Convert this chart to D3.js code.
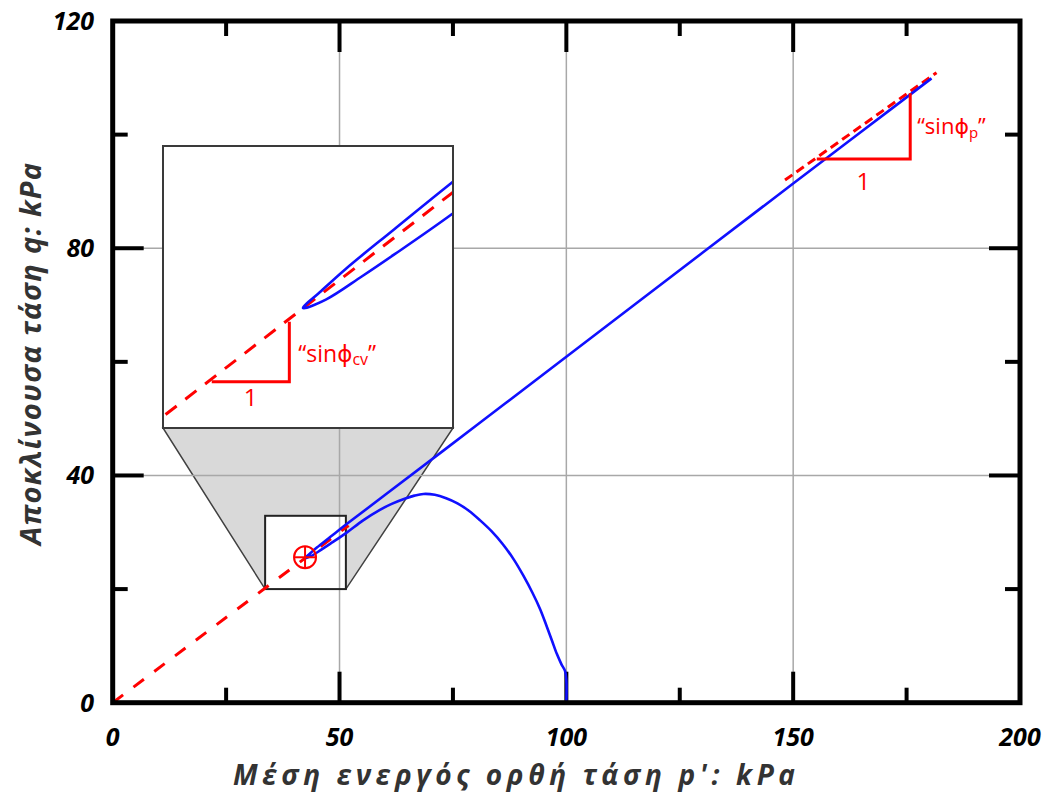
<!DOCTYPE html>
<html><head><meta charset="utf-8">
<script src="https://cdn.jsdelivr.net/npm/d3@7"></script>
<style>
html,body{margin:0;padding:0;background:#fff;}
svg{display:block;}
</style></head>
<body>
<svg id="chart" width="1049" height="794"></svg>
<script>
// ---------- data ----------
const xTicksMajor = [0, 50, 100, 150, 200];
const xTicksMinor = [25, 75, 125, 175];
const yTicksMajor = [0, 40, 80, 120];
const yTicksMinor = [20, 60, 100];
const xGrid = [50, 100, 150];
const yGrid = [40, 80];
const xTitle = "Μέση ενεργός ορθή τάση p': kPa";
const yTitle = "Αποκλίνουσα τάση q: kPa";

// stress path (p', q)
const pathP = [100, 100, 99.7, 98.9, 97.9, 96.8, 95.6, 94.2, 92.5, 90.5, 88.5, 86, 83.5, 81, 78.5, 76, 73.5, 71, 68.5, 66.5, 64.5, 61.5, 58.9, 55.2, 51.5, 48, 46, 43.8, 42.4, 43.5, 45, 48, 51.5, 60, 80, 100, 130, 150, 165, 180.5];
const pathQ = [0, 4, 5.6, 6.8, 8.6, 11.0, 13.6, 16.5, 19.4, 22.4, 25.1, 27.9, 30.2, 32.1, 33.8, 35.1, 36.0, 36.6, 36.75, 36.45, 35.95, 35.0, 33.95, 32.1, 29.9, 28.0, 26.95, 25.85, 25.45, 26.25, 27.3, 29.2, 31.4, 36.55, 48.7, 60.9, 79.2, 91.4, 100.5, 109.9];

// critical state line (sinφcv) and peak line (sinφp)
const cslP = [0, 52];
const cslQ = [0, 31.2];
const peakP = [148.2, 181.6];
const peakQ = [92.0, 110.9];

// slope triangles
const triPeakP = [155.2, 175.8, 175.8];
const triPeakQ = [95.7, 95.7, 107.3];
const triCvP = [36.8, 41.56, 41.56];
const triCvQ = [21.94, 21.94, 24.8];

// phase transformation point
const ptP = 42.4, ptQ = 25.6;

// zoom window (main plot) and inset domains
const boxP = [33.6, 51.4];
const boxQ = [20.0, 32.9];
const insetP = [33.81, 51.6];
const insetQ = [19.74, 33.16];

// ---------- chart ----------
const svg = d3.select("#chart");
const x = d3.scaleLinear().domain([0, 200]).range([112.7, 1020]);
const y = d3.scaleLinear().domain([0, 120]).range([702.7, 21]);
const xi = d3.scaleLinear().domain(insetP).range([163, 453]);
const yi = d3.scaleLinear().domain(insetQ).range([428, 146]);

const RED = "#ff0000", BLUE = "#1010ff";
const FONT = "'Open Sans', 'DejaVu Sans', sans-serif";

svg.append("rect").attr("width", 1049).attr("height", 794).attr("fill", "#fff");

// trapezoid connecting zoom box and inset
const trap = [[xi.range()[0], yi.range()[0]], [xi.range()[1], yi.range()[0]],
              [x(boxP[1]), y(boxQ[0])], [x(boxP[0]), y(boxQ[0])]];
svg.append("polygon").attr("points", trap.map(d => d.join(",")).join(" "))
  .attr("fill", "#d9d9d9").attr("stroke", "#404040").attr("stroke-width", 1.5);
svg.append("rect").attr("x", x(boxP[0])).attr("y", y(boxQ[1]))
  .attr("width", x(boxP[1]) - x(boxP[0])).attr("height", y(boxQ[0]) - y(boxQ[1]))
  .attr("fill", "#fff");

// grid
const g = svg.append("g");
g.selectAll(".gx").data(xGrid).join("line")
  .attr("x1", d => x(d)).attr("x2", d => x(d)).attr("y1", y(0)).attr("y2", y(120))
  .attr("stroke", "#a8a8a8").attr("stroke-width", 1.5);
g.selectAll(".gy").data(yGrid).join("line")
  .attr("y1", d => y(d)).attr("y2", d => y(d)).attr("x1", x(0)).attr("x2", x(200))
  .attr("stroke", "#a8a8a8").attr("stroke-width", 1.5);

// zoom box outline
svg.append("rect").attr("x", x(boxP[0])).attr("y", y(boxQ[1]))
  .attr("width", x(boxP[1]) - x(boxP[0])).attr("height", y(boxQ[0]) - y(boxQ[1]))
  .attr("fill", "none").attr("stroke", "#222").attr("stroke-width", 2);

// ticks
const ticks = svg.append("g").attr("stroke", "#000").attr("stroke-width", 4);
function xTick(vals, len) {
  vals.forEach(v => {
    ticks.append("line").attr("x1", x(v)).attr("x2", x(v)).attr("y1", y(0)).attr("y2", y(0) - len);
    ticks.append("line").attr("x1", x(v)).attr("x2", x(v)).attr("y1", y(120)).attr("y2", y(120) + len);
  });
}
function yTick(vals, len) {
  vals.forEach(v => {
    ticks.append("line").attr("y1", y(v)).attr("y2", y(v)).attr("x1", x(0)).attr("x2", x(0) + len);
    ticks.append("line").attr("y1", y(v)).attr("y2", y(v)).attr("x1", x(200)).attr("x2", x(200) - len);
  });
}
xTick(xTicksMinor, 15); yTick(yTicksMinor, 15);
xTick(xGrid, 31); yTick(yGrid, 31);

// lines
const line = (sx, sy) => d3.line().x(d => sx(d[0])).y(d => sy(d[1]));
const cslData = cslP.map((p, i) => [p, cslQ[i]]);
const peakData = peakP.map((p, i) => [p, peakQ[i]]);
const pathData = pathP.map((p, i) => [p, pathQ[i]]);

svg.append("path").attr("d", line(x, y)(cslData)).attr("fill", "none")
  .attr("stroke", RED).attr("stroke-width", 3).attr("stroke-dasharray", "13,13");
svg.append("path").attr("d", line(x, y)(peakData)).attr("fill", "none")
  .attr("stroke", RED).attr("stroke-width", 3).attr("stroke-dasharray", "9,5");

const curve = d3.line().x(d => x(d[0])).y(d => y(d[1])).curve(d3.curveCatmullRom.alpha(0.5));
svg.append("path").attr("d", curve(pathData)).attr("fill", "none")
  .attr("stroke", BLUE).attr("stroke-width", 2.6).attr("stroke-linejoin", "round");

// peak triangle
svg.append("path").attr("d", line(x, y)(triPeakP.map((p, i) => [p, triPeakQ[i]])))
  .attr("fill", "none").attr("stroke", RED).attr("stroke-width", 3);
const tp = svg.append("text").attr("x", x(175.8) + 7).attr("y", 134)
  .attr("fill", RED).attr("font-family", FONT).attr("font-size", 22);
tp.append("tspan").text("“sinϕ");
tp.append("tspan").attr("font-size", 15).attr("dy", 4).text("p");
tp.append("tspan").attr("dy", -4).text("”");
svg.append("text").attr("x", x((triPeakP[0] + triPeakP[1]) / 2)).attr("y", 190)
  .attr("text-anchor", "middle").attr("fill", RED).attr("font-family", FONT).attr("font-size", 24).text("1");

// phase transformation marker
const r = 11;
const mk = svg.append("g").attr("stroke", RED).attr("stroke-width", 2).attr("fill", "none");
mk.append("circle").attr("cx", x(ptP)).attr("cy", y(ptQ)).attr("r", r);
mk.append("line").attr("x1", x(ptP) - r).attr("x2", x(ptP) + r).attr("y1", y(ptQ)).attr("y2", y(ptQ));
mk.append("line").attr("x1", x(ptP)).attr("x2", x(ptP)).attr("y1", y(ptQ) - r).attr("y2", y(ptQ) + r);

// frame
svg.append("rect").attr("x", x(0)).attr("y", y(120)).attr("width", x(200) - x(0)).attr("height", y(0) - y(120))
  .attr("fill", "none").attr("stroke", "#000").attr("stroke-width", 5);

// inset
svg.append("defs").append("clipPath").attr("id", "clipInset").append("rect")
  .attr("x", 163).attr("y", 146).attr("width", 290).attr("height", 282);
svg.append("rect").attr("x", 163).attr("y", 146).attr("width", 290).attr("height", 282).attr("fill", "#fff");
const ins = svg.append("g").attr("clip-path", "url(#clipInset)");
ins.append("path").attr("d", line(xi, yi)(cslData)).attr("fill", "none")
  .attr("stroke", RED).attr("stroke-width", 3).attr("stroke-dasharray", "14,11");
const curveI = d3.line().x(d => xi(d[0])).y(d => yi(d[1])).curve(d3.curveCatmullRom.alpha(0.5));
ins.append("path").attr("d", curveI(pathData)).attr("fill", "none")
  .attr("stroke", BLUE).attr("stroke-width", 2.6).attr("stroke-linejoin", "round");
ins.append("path").attr("d", line(xi, yi)(triCvP.map((p, i) => [p, triCvQ[i]])))
  .attr("fill", "none").attr("stroke", RED).attr("stroke-width", 3);
const tc = ins.append("text").attr("x", xi(41.56) + 9).attr("y", 362)
  .attr("fill", RED).attr("font-family", FONT).attr("font-size", 23);
tc.append("tspan").text("“sinϕ");
tc.append("tspan").attr("font-size", 16).attr("dy", 3).text("cv");
tc.append("tspan").attr("dy", -3).text("”");
ins.append("text").attr("x", xi((triCvP[0] + triCvP[1]) / 2)).attr("y", 406)
  .attr("text-anchor", "middle").attr("fill", RED).attr("font-family", FONT).attr("font-size", 24).text("1");
svg.append("rect").attr("x", 163).attr("y", 146).attr("width", 290).attr("height", 282)
  .attr("fill", "none").attr("stroke", "#3a3a3a").attr("stroke-width", 2);

// tick labels
const lab = svg.append("g").attr("font-family", FONT).attr("font-weight", "bold")
  .attr("font-style", "italic").attr("font-size", 25).attr("fill", "#000");
xTicksMajor.forEach(v => lab.append("text").attr("x", x(v)).attr("y", 746)
  .attr("text-anchor", "middle").text(v));
yTicksMajor.forEach(v => lab.append("text").attr("x", 94).attr("y", y(v)).attr("dy", "0.36em")
  .attr("text-anchor", "end").text(v));

// axis titles
svg.append("text").attr("x", 514).attr("y", 785).attr("text-anchor", "middle")
  .attr("font-family", FONT).attr("font-weight", "bold").attr("font-style", "italic")
  .attr("font-size", 28).attr("fill", "#333")
  .attr("textLength", 562).attr("lengthAdjust", "spacing").text(xTitle);
svg.append("text").attr("transform", "translate(41,354) rotate(-90)").attr("text-anchor", "middle")
  .attr("font-family", FONT).attr("font-weight", "bold").attr("font-style", "italic")
  .attr("font-size", 29).attr("fill", "#333")
  .attr("textLength", 382).attr("lengthAdjust", "spacing").text(yTitle);
</script>
</body></html>
